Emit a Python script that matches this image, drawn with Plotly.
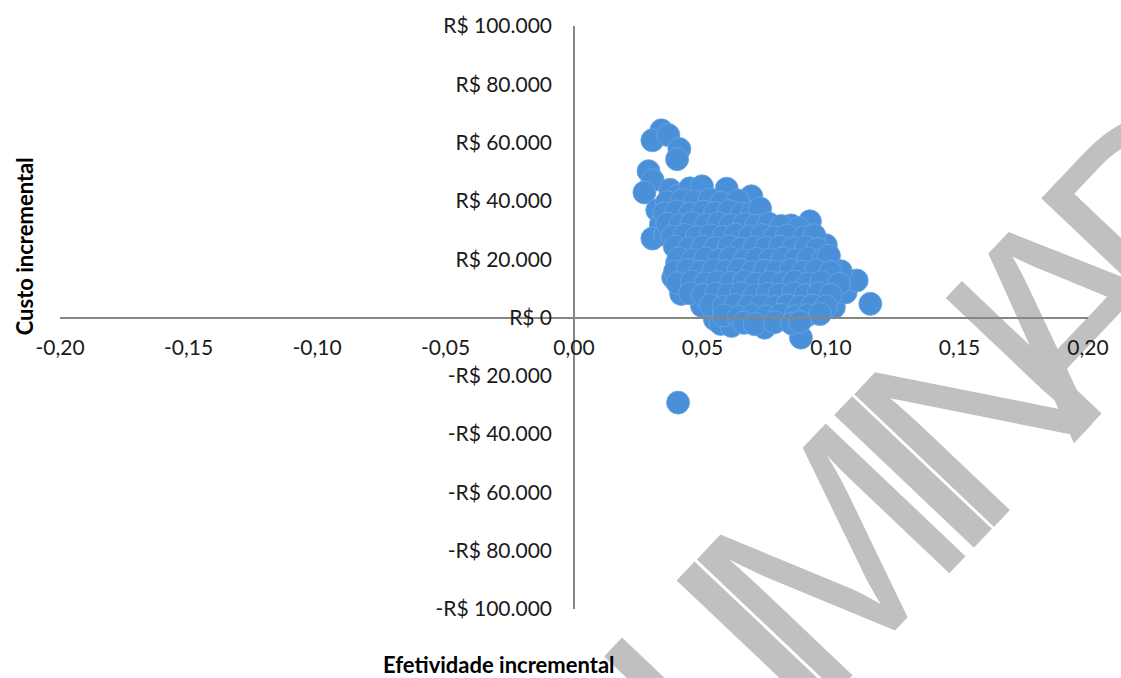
import math
import plotly.graph_objects as go

# Incremental effectiveness and incremental cost of each simulation
efetividade = [
    0.0340, 0.0305, 0.0367, 0.0410, 0.0401, 0.0290, 0.0306, 0.0274, 0.0374, 0.0405,
    0.0451, 0.0498, 0.0594, 0.0690, 0.0324, 0.0338, 0.0305, 0.0355, 0.0420, 0.0401,
    0.0386, 0.0417, 0.0498, 0.0548, 0.0571, 0.0613, 0.0741, 0.0810, 0.0883, 0.1011,
    0.1057, 0.1153, 0.1100, 0.1038, 0.0980, 0.0918, 0.0856, 0.0845, 0.0721, 0.0405,
    0.0362, 0.0421, 0.0472, 0.0528, 0.0573, 0.0638,
    0.0352, 0.0398, 0.0451, 0.0503, 0.0549, 0.0602, 0.0652, 0.0695, 0.0724,
    0.0363, 0.0412, 0.0458, 0.0513, 0.0561, 0.0608, 0.0662, 0.0709, 0.0758, 0.0806, 0.0874,
    0.0382, 0.0431, 0.0478, 0.0532, 0.0581, 0.0629, 0.0683, 0.0731, 0.0779, 0.0828, 0.0897, 0.0935,
    0.0392, 0.0448, 0.0502, 0.0549, 0.0603, 0.0651, 0.0702, 0.0748, 0.0801, 0.0852, 0.0903, 0.0947,
    0.0407, 0.0461, 0.0512, 0.0563, 0.0609, 0.0662, 0.0711, 0.0763, 0.0812, 0.0861, 0.0912, 0.0968, 0.0992,
    0.0393, 0.0442, 0.0491, 0.0543, 0.0592, 0.0641, 0.0693, 0.0742, 0.0789, 0.0843, 0.0891, 0.0942, 0.0998,
    0.0403, 0.0459, 0.0512, 0.0558, 0.0611, 0.0662, 0.0709, 0.0761, 0.0812, 0.0858, 0.0911, 0.0962, 0.1031,
    0.0452, 0.0501, 0.0553, 0.0602, 0.0651, 0.0703, 0.0752, 0.0799, 0.0853, 0.0902, 0.0951, 0.0998,
    0.0531, 0.0582, 0.0628, 0.0681, 0.0729, 0.0782, 0.0831, 0.0879, 0.0928, 0.0981,
    0.0583, 0.0641, 0.0692, 0.0748, 0.0801, 0.0862, 0.0908, 0.0957,
    0.0662, 0.0703, 0.0781, 0.0848, 0.0879,
]
custo = [
    64200, 60800, 62600, 57800, 54300, 50200, 47100, 42900, 43800, 41900,
    44300, 45000, 44200, 41600, 36800, 31800, 27100, 28400, 23900, 18800,
    13700, 8100, 4000, -600, -2200, -2900, -3500, -400, -6900, 3500,
    8600, 4700, 12700, 15900, 24800, 33000, 29100, 31600, 34400, -29200,
    39600, 40300, 39800, 40500, 39400, 40100,
    35800, 36400, 35700, 36300, 35900, 36500, 35600, 36200, 37400,
    32200, 31600, 32400, 31800, 32300, 31700, 32100, 31500, 32200, 31400, 30600,
    27800, 28300, 27600, 28200, 27700, 28400, 27900, 28300, 27500, 28100, 27600, 28200,
    24300, 23700, 24200, 23800, 24400, 23600, 24100, 23900, 24300, 23700, 24200, 23500,
    20300, 19700, 20200, 19800, 20400, 19600, 20100, 19900, 20300, 19700, 20200, 19800, 21200,
    15800, 16300, 15700, 16200, 15900, 16400, 15600, 16100, 15800, 16300, 15700, 16100, 15600,
    11800, 12300, 11700, 12200, 11900, 12400, 11600, 12100, 11800, 12300, 11700, 12200, 11600,
    8300, 7700, 8200, 7800, 8400, 7600, 8100, 7900, 8300, 7700, 8200, 7800,
    4200, 3700, 4300, 3800, 4100, 3600, 4200, 3700, 4100, 3900,
    700, 200, 800, 300, 900, 400, 800, 1200,
    -1800, -2300, -1600, -2100, -1500,
]

x_ticks = [-0.20, -0.15, -0.10, -0.05, 0.00, 0.05, 0.10, 0.15, 0.20]
x_tick_labels = ["-0,20", "-0,15", "-0,10", "-0,05", "0,00", "0,05", "0,10", "0,15", "0,20"]
y_ticks = [-100000, -80000, -60000, -40000, -20000, 0, 20000, 40000, 60000, 80000, 100000]
y_tick_labels = ["-R$ 100.000", "-R$ 80.000", "-R$ 60.000", "-R$ 40.000", "-R$ 20.000", "R$ 0",
                 "R$ 20.000", "R$ 40.000", "R$ 60.000", "R$ 80.000", "R$ 100.000"]

x_title = "Efetividade incremental"
y_title = "Custo incremental"
watermark_letters = ["L", "I", "M", "I", "N", "A", "D"]

W, H = 1121, 678
ML, MR, MT, MB = 60, 24, 18, 69
PW, PH = W - ML - MR, H - MT - MB

FONT = "Lato, 'Open Sans', sans-serif"
AXIS_COLOR = "#868686"


def px_to_paper(px, py):
    return (px - ML) / PW, (H - MB - py) / PH


fig = go.Figure()
fig.add_trace(go.Scatter(
    x=efetividade, y=custo, mode="markers",
    marker=dict(size=23, color="#4a90d9",
                line=dict(color="rgba(105,165,228,0.85)", width=1)),
    hoverinfo="x+y", showlegend=False,
))

fig.update_xaxes(
    range=[-0.2, 0.2], tickvals=x_ticks, ticktext=x_tick_labels,
    anchor="free", position=0.5, showline=True, linecolor=AXIS_COLOR, linewidth=1.5,
    showgrid=False, zeroline=False, ticks="", ticklabelstandoff=12,
    tickfont=dict(family=FONT, size=21, color="#1a1a1a"),
)
fig.update_yaxes(
    range=[-100000, 100000], tickvals=y_ticks, ticktext=y_tick_labels,
    anchor="free", position=0.5, showline=True, linecolor=AXIS_COLOR, linewidth=1.5,
    showgrid=False, zeroline=False, ticks="", ticklabelstandoff=17,
    tickfont=dict(family=FONT, size=21, color="#1a1a1a"),
)

annotations = []
ax, ay = px_to_paper(503, 665)
annotations.append(dict(text="<b>" + x_title + "</b>", x=ax, y=ay, xref="paper", yref="paper",
                        xanchor="center", yanchor="middle", showarrow=False,
                        font=dict(family=FONT, size=22, color="#000")))
ax, ay = px_to_paper(25, 241)
annotations.append(dict(text="<b>" + y_title + "</b>", x=ax, y=ay, xref="paper", yref="paper",
                        xanchor="center", yanchor="middle", showarrow=False, textangle=-90,
                        font=dict(family=FONT, size=22, color="#000")))

# Diagonal watermark behind the plot: each letter is the label of an empty
# shape in the lower layer, placed along a rising baseline
angle = 46.5
ux, uy = math.cos(math.radians(angle)), -math.sin(math.radians(angle))
cx0, cy0 = 733, 627
letter_offsets = [-52, 12, 123, 243, 338, 470, 612]
shapes = []
for ch, off in zip(watermark_letters, letter_offsets):
    lx, ly = px_to_paper(cx0 + off * ux, cy0 + off * uy)
    shapes.append(dict(
        type="rect", xref="paper", yref="paper", layer="below",
        x0=lx - 0.01, x1=lx + 0.01, y0=ly - 0.01, y1=ly + 0.01,
        line=dict(width=0), fillcolor="rgba(0,0,0,0)",
        label=dict(text=ch, textangle=-angle, textposition="middle center",
                   font=dict(family="'Liberation Sans', Arial, sans-serif",
                             size=280, color="#c0c0c0")),
    ))

fig.update_layout(
    width=W, height=H, margin=dict(l=ML, r=MR, t=MT, b=MB),
    plot_bgcolor="white", paper_bgcolor="white",
    annotations=annotations, shapes=shapes,
)

fig.write_html("out.html")
